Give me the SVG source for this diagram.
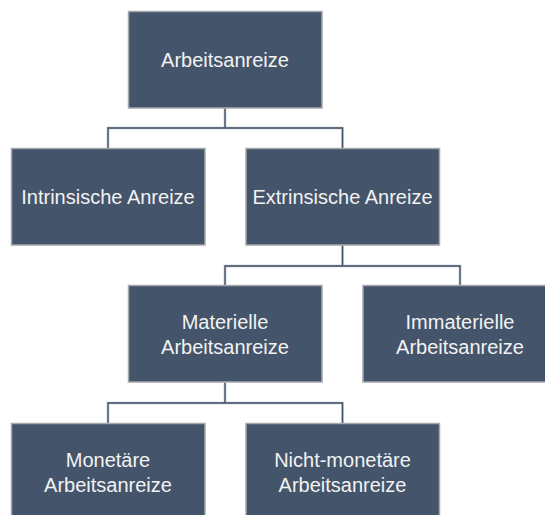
<svg xmlns="http://www.w3.org/2000/svg" width="545" height="515" viewBox="0 0 545 515">
<style>
.box{fill:#44546A;stroke:#A5A8AC;stroke-width:1.5}
.lbl{fill:#F2F2F2;font-family:"Liberation Sans",Arial,sans-serif;font-size:20px;text-anchor:middle}
.con{fill:none;stroke:#44546A;stroke-width:1.3}
.halo{fill:none;stroke:#B8BCC2;stroke-width:2.6}
</style>
<rect width="545" height="515" fill="#FFFFFF"/>
<g id="connectors">
<path class="halo" d="M225,108V128M108,148V128H342.5V148M342.5,245.5V266M225,285.5V266H460V285.5M225,382.5V403M108,423.5V403H342.5V423.5"/>
<path class="con" d="M225,108V128M108,148V128H342.5V148M342.5,245.5V266M225,285.5V266H460V285.5M225,382.5V403M108,423.5V403H342.5V423.5"/>
</g>
<g id="n-arbeitsanreize"><rect class="box" x="128.5" y="11.5" width="193.5" height="96.5"/><text class="lbl" x="225" y="66.5">Arbeitsanreize</text></g>
<g id="n-intrinsisch"><rect class="box" x="11.5" y="148.5" width="193.5" height="96.5"/><text class="lbl" x="108" y="203.5">Intrinsische Anreize</text></g>
<g id="n-extrinsisch"><rect class="box" x="246" y="148.5" width="193.5" height="96.5"/><text class="lbl" x="342.5" y="203.5">Extrinsische Anreize</text></g>
<g id="n-materiell"><rect class="box" x="128.5" y="285.5" width="193.5" height="96.5"/><text class="lbl" x="225" y="329">Materielle</text><text class="lbl" x="225" y="354">Arbeitsanreize</text></g>
<g id="n-immateriell"><rect class="box" x="363" y="285.5" width="193.5" height="96.5"/><text class="lbl" x="460" y="329">Immaterielle</text><text class="lbl" x="460" y="354">Arbeitsanreize</text></g>
<g id="n-monetaer"><rect class="box" x="11.5" y="423.5" width="193.5" height="96.5"/><text class="lbl" x="108" y="467">Monetäre</text><text class="lbl" x="108" y="492">Arbeitsanreize</text></g>
<g id="n-nichtmonetaer"><rect class="box" x="246" y="423.5" width="193.5" height="96.5"/><text class="lbl" x="342.5" y="467">Nicht-monetäre</text><text class="lbl" x="342.5" y="492">Arbeitsanreize</text></g>
</svg>
